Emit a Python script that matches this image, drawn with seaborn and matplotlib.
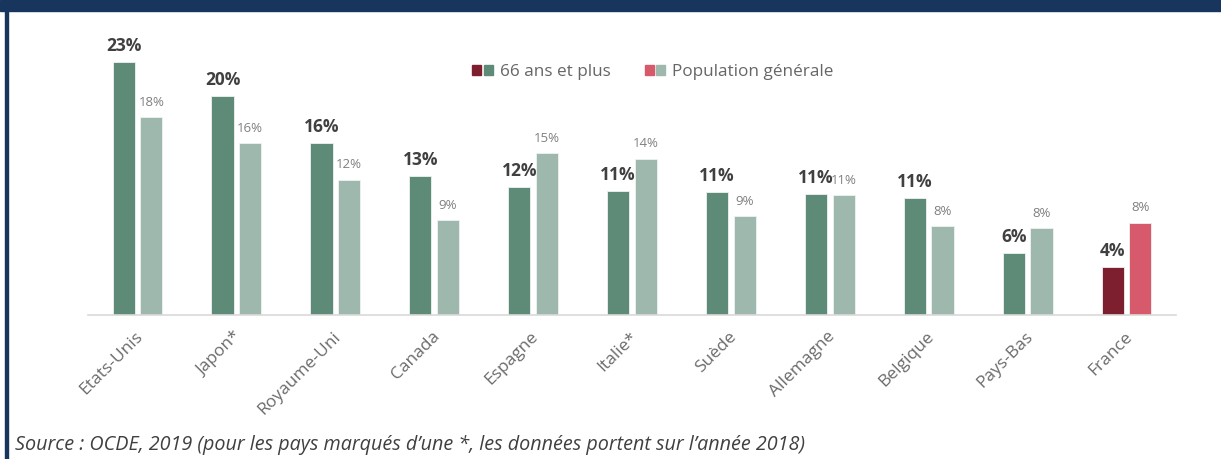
import matplotlib
matplotlib.use("Agg")
import matplotlib.pyplot as plt
import matplotlib.transforms as mtransforms
from matplotlib.patches import Rectangle, Patch
from matplotlib.legend_handler import HandlerTuple
import seaborn as sns
import pandas as pd

# ---- data ----
pays = ["Etats-Unis", "Japon*", "Royaume-Uni", "Canada", "Espagne", "Italie*",
        "Suède", "Allemagne", "Belgique", "Pays-Bas", "France"]
seniors = [23.0, 19.9, 15.6, 12.6, 11.6, 11.3, 11.2, 11.0, 10.6, 5.6, 4.4]
general = [18.0, 15.6, 12.3, 8.6, 14.7, 14.2, 9.0, 10.9, 8.1, 7.9, 8.4]
series = ["66 ans et plus", "Population générale"]
source = "Source : OCDE, 2019 (pour les pays marqués d’une *, les données portent sur l’année 2018)"

df = pd.DataFrame({
    "pays": pays * 2,
    "val": seniors + general,
    "serie": [series[0]] * len(pays) + [series[1]] * len(pays),
})

dark_green = "#5E8A78"
light_green = "#9EB8AD"
dark_red = "#7E1F30"
pink = "#D6596C"
navy = "#18365D"

sns.set_theme(style="white")
plt.rcParams["font.family"] = ["Open Sans", "DejaVu Sans"]

W, H = 1221, 459
fig = plt.figure(figsize=(W / 100, H / 100), dpi=100)
ax = fig.add_axes([88 / W, (H - 315) / H, (1176 - 88) / W, 285 / H])

sns.barplot(data=df, x="pays", y="val", hue="serie", order=pays, hue_order=series,
            palette=[dark_green, light_green], width=0.56, gap=0.2, ax=ax,
            legend=False, saturation=1, linewidth=0.6, edgecolor="#EEF2F0")

# France highlighted in red tones
ax.containers[0][len(pays) - 1].set_facecolor(dark_red)
ax.containers[1][len(pays) - 1].set_facecolor(pink)

ax.bar_label(ax.containers[0], fmt="{:.0f}%", padding=5, fontsize=12.5,
             fontweight="bold", color="#404040")
ax.bar_label(ax.containers[1], fmt="{:.0f}%", padding=6, fontsize=9.5,
             color="#808080")

ax.set_xlim(-0.5, len(pays) - 0.5)
ax.set_ylim(0, 285 / 11)
ax.set_xlabel("")
ax.set_ylabel("")
ax.set_yticks([])
for s in ["top", "right", "left"]:
    ax.spines[s].set_visible(False)
ax.spines["bottom"].set_color("#D9D9D9")
ax.spines["bottom"].set_linewidth(1.2)

ax.tick_params(axis="x", length=0, pad=14, labelsize=12.5, labelcolor="#6B6B6B")
offset = mtransforms.ScaledTranslation(3 / 100, 0, fig.dpi_scale_trans)
for lab in ax.get_xticklabels():
    lab.set_rotation(45)
    lab.set_ha("right")
    lab.set_va("center")
    lab.set_rotation_mode("anchor")
    lab.set_transform(lab.get_transform() + offset)

# legend with paired squares
handles = [(Patch(color=dark_red), Patch(color=dark_green)),
           (Patch(color=pink), Patch(color=light_green))]
fig.legend(handles, series, handler_map={tuple: HandlerTuple(ndivide=None, pad=0.15)},
           loc="center left", bbox_to_anchor=(457 / W, 1 - 72 / H), ncol=2,
           frameon=False, fontsize=12.3, labelcolor="#666666", handlelength=1.2,
           handleheight=0.6, handletextpad=0.4, columnspacing=2.0)

# source
fig.text(15 / W, (H - 450) / H, source, fontsize=14.2, style="italic",
         color="#404040", ha="left", va="baseline")

# frame
fig.patches.append(Rectangle((0, 1 - 11 / H), 1, 11 / H, transform=fig.transFigure,
                             color=navy, zorder=10))
fig.patches.append(Rectangle((5 / W, 0), 3 / W, 1, transform=fig.transFigure,
                             color=navy, zorder=10))

fig.savefig("out.png", dpi=100, facecolor="white")
